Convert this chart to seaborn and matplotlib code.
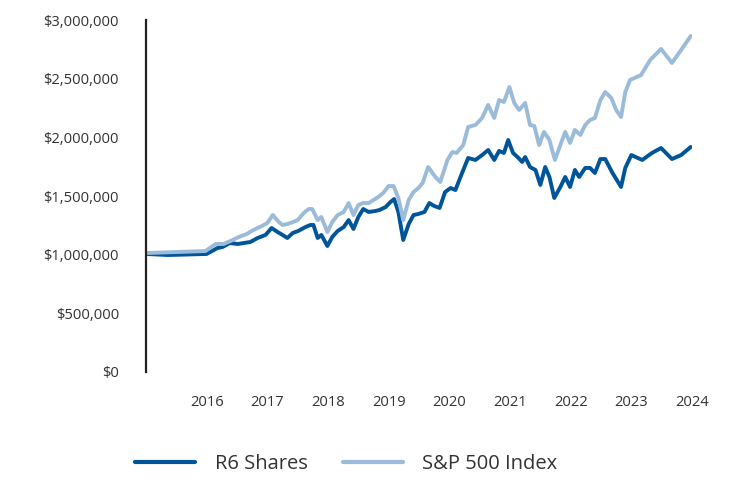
import matplotlib
matplotlib.use("Agg")
import matplotlib.pyplot as plt
import matplotlib.ticker as mticker
from matplotlib.lines import Line2D
import seaborn as sns
import pandas as pd

# ---- data ----
r6_dates = [2015.01, 2015.36, 2016.00, 2016.18, 2016.26, 2016.38, 2016.51, 2016.61, 2016.72,
            2016.84, 2016.97, 2017.07, 2017.17, 2017.25, 2017.33, 2017.42, 2017.51, 2017.63,
            2017.71, 2017.76, 2017.83, 2017.89, 2017.99, 2018.07, 2018.16, 2018.26, 2018.34,
            2018.42, 2018.50, 2018.58, 2018.67, 2018.78, 2018.85, 2018.95, 2019.03, 2019.09,
            2019.16, 2019.24, 2019.33, 2019.41, 2019.49, 2019.59, 2019.67, 2019.75, 2019.84,
            2019.93, 2020.02, 2020.10, 2020.21, 2020.31, 2020.43, 2020.54, 2020.64, 2020.74,
            2020.82, 2020.90, 2020.97, 2021.05, 2021.14, 2021.20, 2021.25, 2021.33, 2021.42,
            2021.50, 2021.58, 2021.65, 2021.73, 2021.83, 2021.91, 2021.99, 2022.07, 2022.14,
            2022.24, 2022.32, 2022.40, 2022.49, 2022.57, 2022.68, 2022.83, 2022.90, 2023.00,
            2023.18, 2023.34, 2023.49, 2023.67, 2023.82, 2023.98]
r6_values = [1006000, 997000, 1006000, 1057000, 1065000, 1099000, 1091000, 1099000, 1108000,
             1142000, 1168000, 1227000, 1193000, 1168000, 1142000, 1185000, 1202000, 1236000,
             1253000, 1253000, 1142000, 1168000, 1074000, 1151000, 1202000, 1236000, 1295000,
             1219000, 1321000, 1389000, 1364000, 1372000, 1381000, 1406000, 1449000, 1474000,
             1364000, 1125000, 1261000, 1338000, 1347000, 1364000, 1440000, 1415000, 1398000,
             1534000, 1568000, 1551000, 1696000, 1824000, 1807000, 1849000, 1892000, 1807000,
             1884000, 1867000, 1977000, 1867000, 1824000, 1790000, 1832000, 1747000, 1722000,
             1594000, 1747000, 1662000, 1483000, 1577000, 1662000, 1577000, 1722000, 1662000,
             1739000, 1739000, 1696000, 1815000, 1815000, 1705000, 1577000, 1739000, 1849000,
             1807000, 1867000, 1909000, 1815000, 1849000, 1918000]

sp_dates = [2015.01, 2015.98, 2016.15, 2016.28, 2016.43, 2016.53, 2016.66, 2016.77, 2016.91,
            2017.00, 2017.09, 2017.19, 2017.25, 2017.33, 2017.42, 2017.50, 2017.60, 2017.68,
            2017.74, 2017.83, 2017.89, 2017.99, 2018.07, 2018.16, 2018.26, 2018.34, 2018.42,
            2018.50, 2018.58, 2018.67, 2018.75, 2018.83, 2018.91, 2019.00, 2019.08, 2019.16,
            2019.24, 2019.33, 2019.41, 2019.49, 2019.56, 2019.65, 2019.77, 2019.85, 2019.97,
            2020.05, 2020.12, 2020.23, 2020.31, 2020.43, 2020.54, 2020.64, 2020.74, 2020.82,
            2020.90, 2020.99, 2021.07, 2021.15, 2021.25, 2021.33, 2021.40, 2021.48, 2021.56,
            2021.65, 2021.74, 2021.83, 2021.91, 2021.99, 2022.07, 2022.16, 2022.24, 2022.32,
            2022.40, 2022.49, 2022.57, 2022.67, 2022.75, 2022.83, 2022.90, 2022.98, 2023.16,
            2023.31, 2023.49, 2023.67, 2023.82, 2023.98]
sp_values = [1014000, 1031000, 1091000, 1091000, 1125000, 1151000, 1176000, 1210000, 1244000,
             1270000, 1338000, 1278000, 1253000, 1261000, 1278000, 1295000, 1355000, 1389000,
             1389000, 1295000, 1321000, 1193000, 1278000, 1338000, 1364000, 1440000, 1338000,
             1423000, 1440000, 1440000, 1466000, 1492000, 1526000, 1585000, 1585000, 1483000,
             1295000, 1466000, 1534000, 1568000, 1611000, 1747000, 1662000, 1619000, 1807000,
             1875000, 1867000, 1935000, 2088000, 2105000, 2165000, 2276000, 2165000, 2318000,
             2301000, 2429000, 2293000, 2233000, 2293000, 2105000, 2097000, 1935000, 2046000,
             1977000, 1807000, 1935000, 2046000, 1952000, 2063000, 2020000, 2105000, 2148000,
             2165000, 2318000, 2386000, 2335000, 2233000, 2173000, 2386000, 2489000, 2531000,
             2659000, 2753000, 2634000, 2744000, 2864000]

series_names = ["R6 Shares", "S&P 500 Index"]
series_colors = ["#00549A", "#9BBBDA"]
y_ticks = [0, 500000, 1000000, 1500000, 2000000, 2500000, 3000000]
x_ticks = [2016, 2017, 2018, 2019, 2020, 2021, 2022, 2023, 2024]

df = pd.concat([
    pd.DataFrame({"Date": r6_dates, "Value": r6_values, "Series": series_names[0]}),
    pd.DataFrame({"Date": sp_dates, "Value": sp_values, "Series": series_names[1]}),
])

sns.set_theme(style="white")
plt.rcParams["font.family"] = ["Open Sans", "DejaVu Sans"]

fig = plt.figure(figsize=(7.32, 4.80), dpi=100)
ax = fig.add_axes([146 / 732, 108 / 480, (692 - 146) / 732, 352 / 480])

sns.lineplot(data=df, x="Date", y="Value", hue="Series", hue_order=series_names,
             palette=series_colors, linewidth=2.8, sort=False, estimator=None, ax=ax,
             legend=False)

ax.set_xlim(2015.0, 2024.0)
ax.set_ylim(0, 3000000)
ax.set_xticks(x_ticks)
ax.set_xticklabels([str(t) for t in x_ticks])
ax.set_yticks(y_ticks)
ax.yaxis.set_major_formatter(mticker.FuncFormatter(lambda v, p: "${:,.0f}".format(v)))
ax.set_xlabel("")
ax.set_ylabel("")
for s in ["top", "right", "bottom"]:
    ax.spines[s].set_visible(False)
ax.spines["left"].set_color("#222222")
ax.spines["left"].set_linewidth(1.6)
ax.tick_params(axis="y", length=0, pad=19.5, labelsize=10.6, labelcolor="#333333")
ax.tick_params(axis="x", length=0, pad=16.5, labelsize=10.6, labelcolor="#333333")

handles = [Line2D([0], [0], color=c, lw=3.0) for c in series_colors]
fig.legend(handles, series_names, loc="center", bbox_to_anchor=(0.473, 0.033),
           ncol=2, frameon=False, fontsize=14.5, handlelength=3.0, handletextpad=0.95,
           columnspacing=1.75, labelcolor="#333333")

fig.savefig("out.png", dpi=100)
